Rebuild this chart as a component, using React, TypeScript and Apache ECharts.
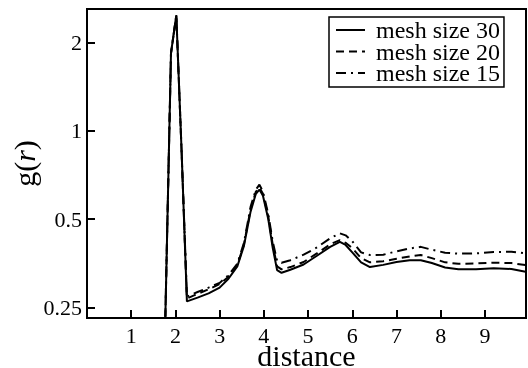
import React, { useEffect, useRef } from 'react';
import * as echarts from 'echarts';

const distance = [1.76, 1.9, 2.02, 2.14, 2.26, 2.5, 2.75, 3.0, 3.2, 3.4, 3.55, 3.7, 3.82, 3.9, 3.98, 4.1, 4.2, 4.3, 4.4, 4.6, 4.9, 5.2, 5.5, 5.72, 5.85, 6.0, 6.2, 6.4, 6.7, 7.0, 7.3, 7.55, 7.8, 8.1, 8.4, 8.8, 9.2, 9.6, 9.95];

const meshSize30 = [0.19, 1.84, 2.48, 0.85, 0.262, 0.27, 0.279, 0.292, 0.313, 0.345, 0.405, 0.53, 0.61, 0.63, 0.6, 0.5, 0.4, 0.335, 0.328, 0.336, 0.35, 0.375, 0.402, 0.418, 0.408, 0.385, 0.356, 0.343, 0.349, 0.357, 0.362, 0.362, 0.354, 0.342, 0.337, 0.337, 0.34, 0.338, 0.33];

const meshSize20 = [0.19, 1.84, 2.46, 0.85, 0.268, 0.278, 0.288, 0.3, 0.318, 0.348, 0.41, 0.54, 0.62, 0.64, 0.61, 0.51, 0.41, 0.345, 0.337, 0.343, 0.357, 0.382, 0.41, 0.424, 0.415, 0.398, 0.368, 0.356, 0.359, 0.366, 0.373, 0.377, 0.368, 0.356, 0.352, 0.353, 0.355, 0.354, 0.348];

const meshSize15 = [0.19, 1.84, 2.47, 0.85, 0.272, 0.282, 0.292, 0.303, 0.322, 0.352, 0.415, 0.55, 0.63, 0.655, 0.62, 0.52, 0.42, 0.36, 0.355, 0.362, 0.378, 0.4, 0.43, 0.447, 0.44, 0.42, 0.385, 0.377, 0.378, 0.388, 0.397, 0.402, 0.393, 0.384, 0.381, 0.382, 0.386, 0.387, 0.382];

const seriesNames = ['mesh size 30', 'mesh size 20', 'mesh size 15'];
const xTickLabels = [1, 2, 3, 4, 5, 6, 7, 8, 9];
const yTickLabels = [0.25, 0.5, 1, 2];

export default function App() {
  const ref = useRef<HTMLDivElement>(null);
  useEffect(() => {
    const chart = echarts.init(ref.current!, null, { renderer: 'svg' });
    const font = 'Liberation Serif';
    const pairs = (ys: number[]) => distance.map((x, i) => [x, ys[i]]);
    const lineTypes: any[] = ['solid', [8, 5], [10, 5, 2, 5]];
    const allSeries = [meshSize30, meshSize20, meshSize15];
    chart.setOption({
      animation: false,
      textStyle: { fontFamily: font, color: '#000' },
      grid: {
        left: 87, top: 9, width: 439, height: 309,
        outerBoundsMode: 'none', containLabel: false,
        show: true, borderColor: '#000', borderWidth: 2,
      },
      xAxis: {
        type: 'value', min: 0, max: 9.93, interval: 1,
        name: 'distance', nameLocation: 'middle', nameGap: 22, nameMoveOverlap: false,
        nameTextStyle: { fontSize: 30, fontFamily: font, color: '#000' },
        axisLine: { show: true, lineStyle: { color: '#000', width: 2 } },
        axisTick: { show: true, inside: true, length: 8, lineStyle: { color: '#000', width: 2 } },
        axisLabel: {
          fontSize: 22, fontFamily: font, color: '#000', margin: 6,
          showMinLabel: false, showMaxLabel: false,
          formatter: (v: number) => (xTickLabels.includes(Math.round(v * 1000) / 1000) ? String(Math.round(v)) : ''),
        },
        splitLine: { show: false },
      },
      yAxis: {
        type: 'log', logBase: 2, min: 0.23, max: 2.6,
        name: '{n|g(}{i|r}{n|)}', nameLocation: 'middle', nameGap: 48, nameRotate: 90, nameMoveOverlap: false,
        nameTextStyle: {
          fontSize: 30, fontFamily: font, color: '#000',
          rich: {
            n: { fontSize: 30, fontFamily: font, color: '#000' },
            i: { fontSize: 30, fontFamily: font, fontStyle: 'italic', color: '#000' },
          },
        },
        axisLine: { show: true, lineStyle: { color: '#000', width: 2 } },
        axisTick: { show: true, inside: true, length: 8, lineStyle: { color: '#000', width: 2 } },
        axisLabel: {
          fontSize: 22, fontFamily: font, color: '#000', margin: 5,
          showMinLabel: false, showMaxLabel: false,
          formatter: (v: number) => {
            const t = yTickLabels.find((k) => Math.abs(k - v) < 1e-6);
            return t !== undefined ? String(t) : '';
          },
        },
        splitLine: { show: false },
        minorTick: { show: false },
      },
      legend: {
        orient: 'vertical', left: 329, top: 17,
        padding: [1, 4, 2, 6], itemGap: -2.5, itemWidth: 29, itemHeight: 14,
        borderColor: '#000', borderWidth: 1.5, backgroundColor: '#fff',
        itemStyle: { opacity: 0 },
        textStyle: { fontSize: 24, fontFamily: font, color: '#000', lineHeight: 21, padding: [0, 0, 0, 6] },
        data: seriesNames,
      },
      series: seriesNames.map((name, i) => ({
        name, type: 'line', symbol: 'none', showSymbol: false, clip: true,
        data: pairs(allSeries[i]),
        itemStyle: { color: '#000' },
        lineStyle: { color: '#000', width: 2, type: lineTypes[i] },
        z: 3 - i,
      })),
    });
    return () => chart.dispose();
  }, []);
  return <div ref={ref} style={{ position: 'fixed', left: 0, top: 0, width: 528, height: 368 }} />;
}
